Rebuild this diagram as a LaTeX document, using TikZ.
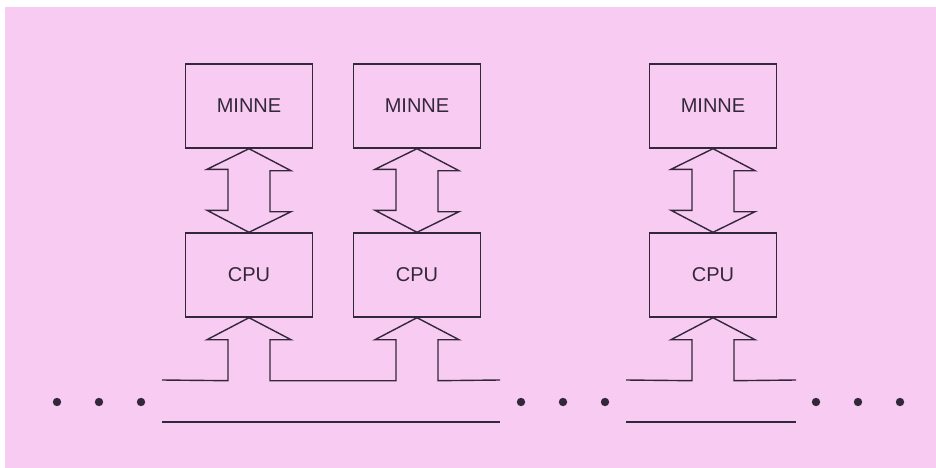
\documentclass[tikz,border=0pt]{standalone}
\usepackage{fontspec}
\setmainfont{Liberation Sans}
\usepackage{xcolor}
\usetikzlibrary{positioning,calc}
\definecolor{ScanPink}{HTML}{F8CBF2}
\definecolor{InkGray}{HTML}{33283A}

\tikzset{
  unitbox/.style={draw=InkGray, line width=1.4pt, minimum width=127pt,
    minimum height=84pt, inner sep=0pt, font=\fontsize{20}{24}\selectfont,
    text=InkGray},
  wire/.style={draw=InkGray, line width=1.4pt, line join=miter},
  feedin/.style={insert path={-- ($(#1.south)+(-21,63)$) -- ++(0,-41)
    -- ++(-21,0) -- (#1.south) -- ++(42,22) -- ++(-21,0) -- ++(0,41)}}
}

\begin{document}
\begin{tikzpicture}[x=1pt, y=-1pt]
    \useasboundingbox (0,0) rectangle (936,468);
    \fill[ScanPink] (5,7) rectangle (936,468);

    % processor columns
    \foreach \i/\x in {1/249, 2/417, 3/713} {
      \node[unitbox] (m\i) at (\x,106) {MINNE};
      \node[unitbox] (c\i) at (\x,275) {CPU};
      \draw[wire] (m\i.south) -- ++(42,22) -- ++(-21,0) -- ++(0,41)
        -- ++(21,0) -- (c\i.north) -- ++(-42,-22) -- ++(21,0)
        -- ++(0,-41) -- ++(-21,0) -- cycle;
    }

    % bus
    \coordinate (busA) at (162,380);
    \coordinate (busB) at (500,380);
    \coordinate (busC) at (626,380);
    \coordinate (busD) at (796,380);
    \draw[wire] (busA) [feedin=c1] [feedin=c2] -- (busB);
    \draw[wire] (busC) [feedin=c3] -- (busD);
    \draw[wire] ($(busA)+(0,42)$) -- ($(busB)+(0,42)$);
    \draw[wire] ($(busC)+(0,42)$) -- ($(busD)+(0,42)$);

    % continuation dots
    \foreach \x in {57, 99, 141, 521, 563, 605, 816, 858, 900}
      \fill[InkGray] (\x,402) circle (4.2pt);
  \end{tikzpicture}
\end{document}
